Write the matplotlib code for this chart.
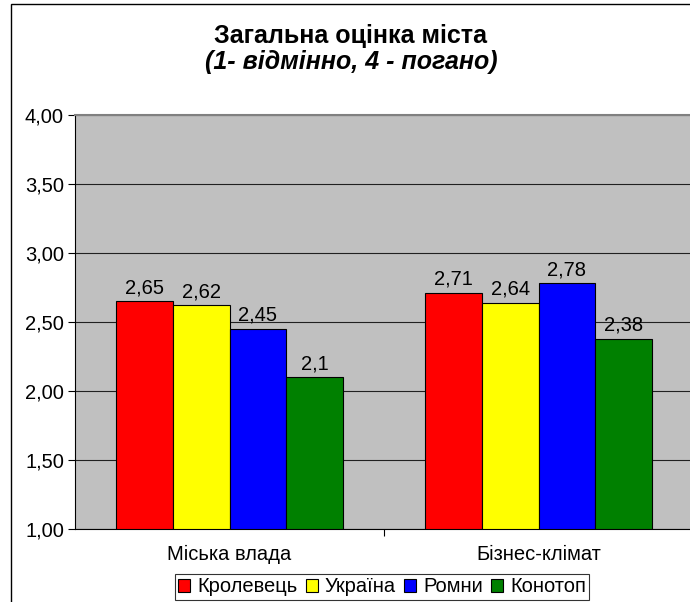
import numpy as np
import matplotlib
matplotlib.use("Agg")
import matplotlib.pyplot as plt
from matplotlib.patches import Rectangle
from matplotlib.ticker import FuncFormatter

plt.rcParams['font.family'] = ['Liberation Sans', 'DejaVu Sans']

# ---- дані ----
categories = ["Міська влада", "Бізнес-клімат"]
series_names = ["Кролевець", "Україна", "Ромни", "Конотоп"]
values = {
    "Кролевець": [2.65, 2.71],
    "Україна": [2.62, 2.64],
    "Ромни": [2.45, 2.78],
    "Конотоп": [2.10, 2.38],
}
colors = ["#FF0000", "#FFFF00", "#0000FF", "#008000"]

W, H = 690, 602
FS = 14.5
fig = plt.figure(figsize=(W / 100, H / 100), dpi=100)

# рамка діаграми (обрізана справа і знизу)
fig.patches.append(Rectangle((11 / W, -0.05), 1.2, 1 - 4 / H + 0.05, transform=fig.transFigure,
                             fill=False, edgecolor="black", linewidth=1.0))

ax = fig.add_axes([75 / W, 1 - 529 / H, 618 / W, (529 - 115) / H])
ax.set_facecolor("#C0C0C0")

x = np.arange(len(categories))
bw = 0.184
for i, name in enumerate(series_names):
    pos = x + (i - 1.5) * bw
    ax.bar(pos, np.array(values[name]) - 1.0, bw, bottom=1.0,
           color=colors[i], edgecolor="black", linewidth=0.8, label=name, zorder=3)
    for xx, v in zip(pos, values[name]):
        lab = f"{v:g}".replace(".", ",")
        ax.annotate(lab, (xx, v), xytext=(0, 3), textcoords="offset points",
                    ha="center", va="bottom", fontsize=FS)

ax.set_xlim(-0.5, 1.5)
ax.set_ylim(1.0, 4.0)
ax.set_yticks(np.arange(1.0, 4.01, 0.5))
ax.yaxis.set_major_formatter(FuncFormatter(lambda v, p: f"{v:.2f}".replace(".", ",")))
ax.yaxis.grid(True, color="#202020", linewidth=0.8, zorder=0)
ax.set_axisbelow(True)

ax.set_xticks([0.5])
ax.set_xticklabels([""])
ax.tick_params(axis="x", length=5, width=0.8, direction="out")
ax.tick_params(axis="y", length=5, width=0.8, direction="out", labelsize=FS, pad=3)
for i, c in enumerate(categories):
    ax.text(x[i], 1 - (554 - 115) / (529 - 115), c, transform=ax.get_xaxis_transform(),
            ha="center", va="center", fontsize=FS)

ax.spines["top"].set_color("#808080")
ax.spines["top"].set_linewidth(1.5)
ax.spines["right"].set_visible(False)
ax.spines["left"].set_linewidth(0.8)
ax.spines["bottom"].set_linewidth(0.8)

fig.text(351 / W, 1 - 36 / H, "Загальна оцінка міста", ha="center", va="center",
         fontsize=18, fontweight="bold")
fig.text(351 / W, 1 - 62 / H, "(1- відмінно, 4 - погано)", ha="center", va="center",
         fontsize=18, fontweight="bold", fontstyle="italic")

leg = fig.legend(loc="center", bbox_to_anchor=(382 / W, 1 - 587 / H), ncol=4, fontsize=FS,
                 frameon=True, fancybox=False, edgecolor="black", handlelength=0.6,
                 handleheight=0.6, handletextpad=0.35, columnspacing=0.4, borderpad=0.15,
                 borderaxespad=0)
leg.get_frame().set_linewidth(0.8)

fig.savefig("out.png", dpi=100)
